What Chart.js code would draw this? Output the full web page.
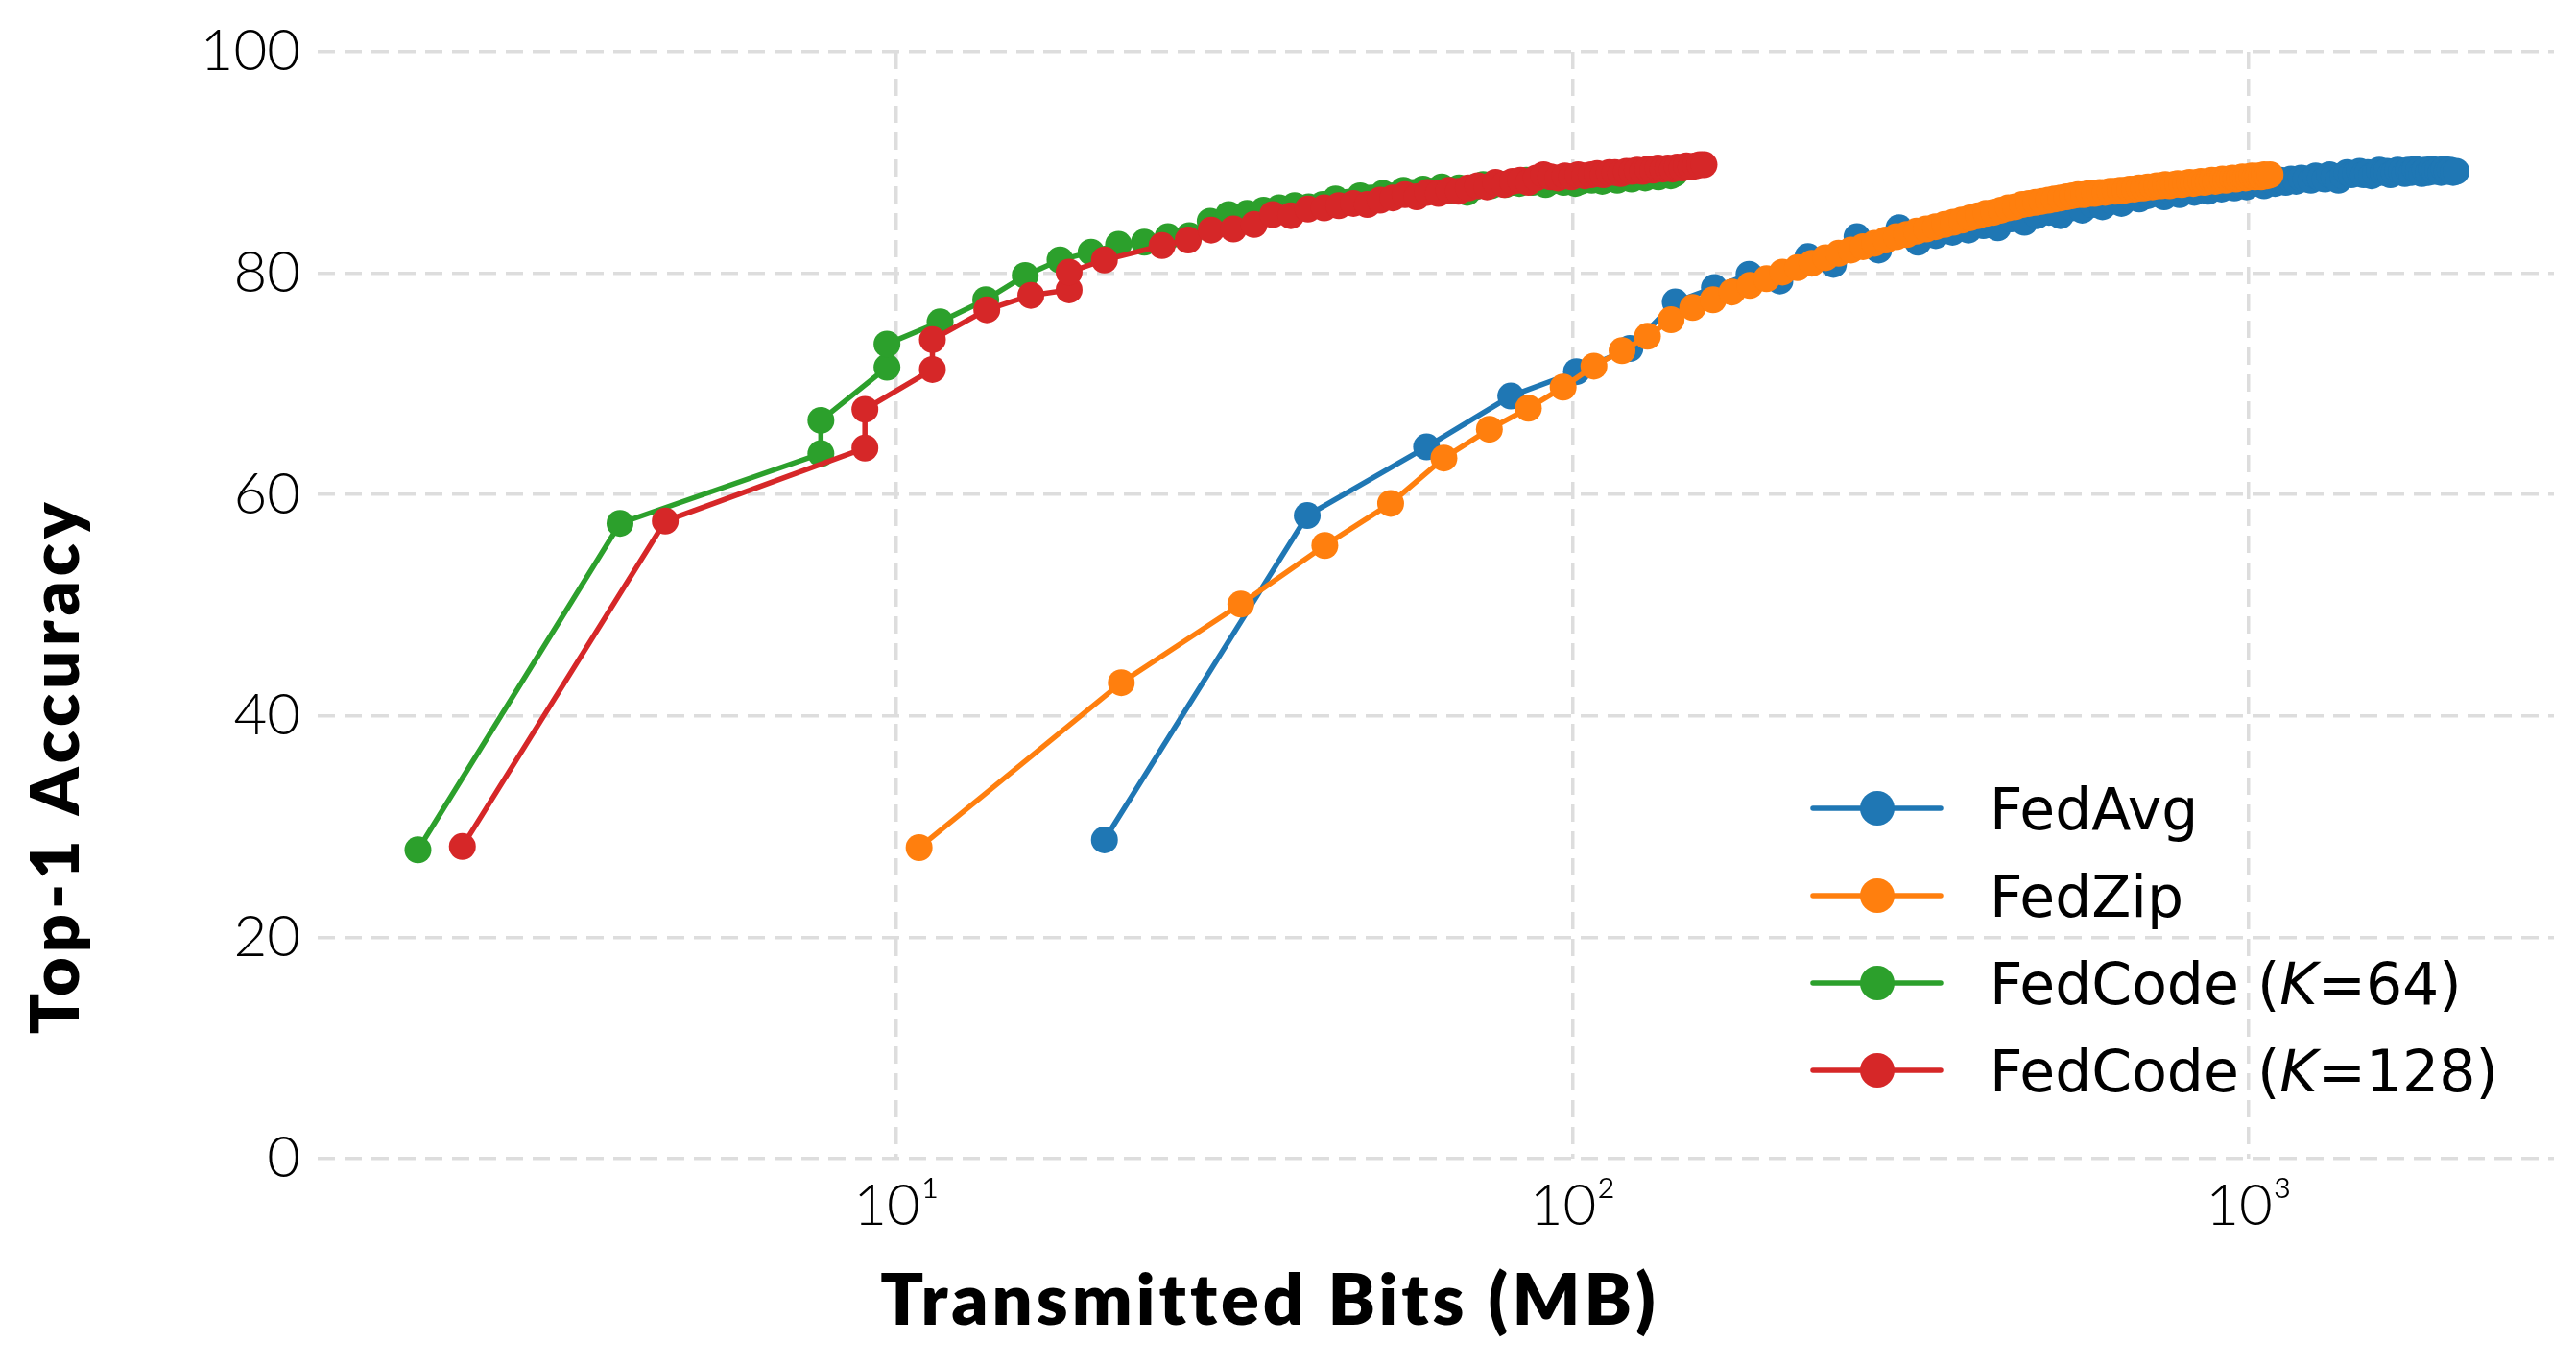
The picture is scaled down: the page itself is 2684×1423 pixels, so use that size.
<!DOCTYPE html>
<html>
<head>
<meta charset="utf-8">
<script src="https://cdn.jsdelivr.net/npm/chart.js@4.4.1/dist/chart.umd.min.js"></script>
<style>
  html, body { margin: 0; padding: 0; background: #fff; }
  canvas { display: block; }
</style>
</head>
<body>
<canvas id="myChart" width="2684" height="1423"></canvas>
<script>
// DATA
const xTickValues = [10, 100, 1000];
const xTickLabels = ['10\u00B9', '10\u00B2', '10\u00B3'];
const yTickStep = 20;

const seriesNames = ['FedAvg', 'FedZip', 'FedCode (K=64)', 'FedCode (K=128)'];
const seriesColors = ['#1f77b4', '#ff7f0e', '#2ca02c', '#d62728'];

const fedAvgX = [20.3, 40.5, 60.8, 81.0, 101.3, 121.5, 141.8, 162.0, 182.3, 202.5,
  222.8, 243.0, 263.3, 283.5, 303.8, 324.0, 344.3, 364.5, 384.8, 405.0,
  425.3, 445.5, 465.8, 486.0, 506.3, 526.5, 546.8, 567.0, 587.3, 607.5,
  627.8, 648.0, 668.3, 688.5, 708.8, 729.0, 749.3, 769.5, 789.8, 810.0,
  830.3, 850.5, 870.8, 891.0, 911.3, 931.5, 951.8, 972.0, 992.3, 1012.5,
  1032.8, 1053.0, 1073.3, 1093.5, 1113.8, 1134.0, 1154.3, 1174.5, 1194.8, 1215.0,
  1235.3, 1255.5, 1275.8, 1296.0, 1316.3, 1336.5, 1356.8, 1377.0, 1397.3, 1417.5,
  1437.8, 1458.0, 1478.3, 1498.5, 1518.8, 1539.0, 1559.3, 1579.5, 1599.8, 1620.0,
  1640.3, 1660.5, 1680.8, 1701.0, 1721.3, 1741.5, 1761.8, 1782.0, 1802.3, 1822.5,
  1842.8, 1863.0, 1883.3, 1903.5, 1923.8, 1944.0, 1964.3, 1984.5, 2004.8, 2025.0];
const fedAvgY = [28.8, 58.1, 64.3, 68.9, 71.1, 73.2, 77.4, 78.7, 79.9, 79.3,
  81.5, 80.8, 83.3, 82.1, 84.1, 82.8, 83.4, 83.7, 83.9, 84.3,
  84.1, 84.9, 84.6, 85.2, 85.5, 85.2, 85.9, 85.7, 86.2, 86.0,
  86.5, 86.3, 86.9, 86.7, 87.0, 87.2, 86.9, 87.3, 87.1, 87.5,
  87.3, 87.6, 87.4, 87.7, 87.6, 87.9, 87.7, 88.0, 87.8, 88.1,
  88.2, 87.9, 88.3, 88.1, 88.4, 88.2, 88.5, 88.3, 88.6, 88.5,
  88.4, 88.8, 88.6, 88.5, 88.9, 88.7, 88.4, 88.8, 89.1, 88.9,
  89.0, 89.2, 88.9, 89.1, 88.8, 89.0, 89.3, 89.1, 89.2, 88.9,
  89.1, 89.3, 89.2, 89.0, 89.3, 89.1, 89.4, 89.2, 89.0, 89.3,
  89.1, 89.4, 89.2, 89.3, 89.1, 89.4, 89.2, 89.3, 89.1, 89.2];

const fedZipX = [10.8, 21.5, 32.3, 43.0, 53.8, 64.5, 75.3, 86.0, 96.8, 107.5,
  118.3, 129.0, 139.8, 150.5, 161.3, 172.0, 182.8, 193.5, 204.3, 215.0,
  225.8, 236.5, 247.3, 258.0, 268.8, 279.5, 290.3, 301.0, 311.8, 322.5,
  333.3, 344.0, 354.8, 365.5, 376.3, 387.0, 397.8, 408.5, 419.3, 430.0,
  440.8, 451.5, 462.3, 473.0, 483.8, 494.5, 505.3, 516.0, 526.8, 537.5,
  548.3, 559.0, 569.8, 580.5, 591.3, 602.0, 612.8, 623.5, 634.3, 645.0,
  655.8, 666.5, 677.3, 688.0, 698.8, 709.5, 720.3, 731.0, 741.8, 752.5,
  763.3, 774.0, 784.8, 795.5, 806.3, 817.0, 827.8, 838.5, 849.3, 860.0,
  870.8, 881.5, 892.3, 903.0, 913.8, 924.5, 935.3, 946.0, 956.8, 967.5,
  978.3, 989.0, 999.8, 1010.5, 1021.3, 1032.0, 1042.8, 1053.5, 1064.3, 1075.0];
const fedZipY = [28.1, 43.0, 50.1, 55.4, 59.2, 63.3, 65.9, 67.8, 69.7, 71.6,
  73.0, 74.3, 75.8, 76.9, 77.6, 78.3, 78.9, 79.5, 80.1, 80.5,
  80.9, 81.4, 81.8, 82.1, 82.4, 82.7, 83.0, 83.3, 83.5, 83.8,
  84.0, 84.2, 84.4, 84.6, 84.8, 85.0, 85.2, 85.4, 85.5, 85.7,
  85.9, 86.0, 86.2, 86.3, 86.4, 86.5, 86.6, 86.7, 86.8, 86.9,
  87.0, 87.1, 87.1, 87.2, 87.2, 87.3, 87.3, 87.4, 87.4, 87.5,
  87.5, 87.6, 87.6, 87.7, 87.7, 87.8, 87.8, 87.9, 87.9, 88.0,
  87.9, 88.0, 88.1, 88.0, 88.1, 88.2, 88.1, 88.2, 88.3, 88.2,
  88.3, 88.4, 88.3, 88.4, 88.5, 88.4, 88.5, 88.6, 88.5, 88.6,
  88.7, 88.6, 88.7, 88.8, 88.7, 88.8, 88.7, 88.9, 88.8, 88.9];

const fedCode64X = [1.96, 3.90, 7.73, 7.73, 9.68, 9.68, 11.6, 13.55, 15.5, 17.45,
  19.4, 21.3, 23.25, 25.2, 27.1, 29.1, 31.0, 33.0, 34.9, 36.8,
  38.8, 40.7, 42.7, 44.6, 46.5, 48.5, 50.4, 52.4, 54.3, 56.2,
  58.2, 60.1, 62.1, 64.0, 66.0, 67.9, 69.8, 71.8, 73.7, 75.7,
  77.6, 79.5, 81.5, 83.4, 85.4, 87.3, 89.2, 91.2, 93.1, 95.1,
  97.0, 98.9, 100.9, 102.8, 104.8, 106.7, 108.6, 110.6, 112.5, 114.5,
  116.4, 118.3, 120.3, 122.2, 124.2, 126.1, 128.0, 130.0, 131.9, 133.9,
  135.8, 137.7, 139.7, 141.6];
const fedCode64Y = [27.9, 57.4, 63.7, 66.7, 71.5, 73.6, 75.6, 77.6, 79.8, 81.2,
  81.9, 82.6, 82.8, 83.3, 83.4, 84.7, 85.3, 85.4, 85.7, 85.9,
  86.1, 86.0, 86.2, 86.7, 86.4, 87.0, 86.8, 87.2, 87.0, 87.5,
  87.3, 87.6, 87.4, 87.8, 87.5, 87.7, 87.3, 87.8, 88.0, 87.9,
  88.1, 88.0, 88.2, 88.1, 88.4, 88.2, 88.3, 88.0, 88.3, 88.5,
  88.2, 88.4, 88.1, 88.3, 88.5, 88.4, 88.6, 88.3, 88.5, 88.7,
  88.4, 88.6, 88.8, 88.5, 88.7, 88.9, 88.6, 88.8, 89.0, 88.7,
  88.9, 89.1, 88.8, 89.0];

const fedCode128X = [2.28, 4.55, 8.98, 8.98, 11.3, 11.3, 13.6, 15.8, 18.0, 18.0,
  20.3, 24.7, 27.0, 29.2, 31.5, 33.8, 36.0, 38.3, 40.6, 42.9,
  45.1, 47.4, 49.7, 51.9, 54.2, 56.5, 58.8, 61.0, 63.3, 65.6,
  67.8, 70.1, 72.4, 74.7, 76.9, 79.2, 81.5, 83.7, 86.0, 88.3,
  90.6, 92.8, 95.1, 97.4, 99.6, 101.9, 104.2, 106.5, 108.7, 111.0,
  113.3, 115.5, 117.8, 120.1, 122.4, 124.6, 126.9, 129.2, 131.4, 133.7,
  136.0, 138.3, 140.5, 142.8, 145.1, 147.3, 149.6, 151.9, 154.2, 156.4];
const fedCode128Y = [28.2, 57.6, 64.2, 67.7, 71.3, 74.0, 76.7, 78.0, 78.5, 80.1,
  81.2, 82.5, 83.0, 83.9, 84.0, 84.4, 85.3, 85.2, 85.8, 85.9,
  86.1, 86.3, 86.2, 86.6, 86.8, 87.1, 86.9, 87.3, 87.2, 87.5,
  87.4, 87.7, 87.9, 87.8, 88.2, 88.0, 88.3, 88.4, 88.2, 88.6,
  88.9, 88.7, 88.6, 88.8, 88.7, 88.9, 88.8, 88.9, 89.0, 88.9,
  89.1, 89.1, 89.0, 89.2, 89.2, 89.3, 89.2, 89.4, 89.3, 89.5,
  89.4, 89.5, 89.4, 89.6, 89.5, 89.7, 89.6, 89.7, 89.8, 89.8];

const allX = [fedAvgX, fedZipX, fedCode64X, fedCode128X];
const allY = [fedAvgY, fedZipY, fedCode64Y, fedCode128Y];

// STYLE
const gridColor = '#dddddd';
const tickFont = { family: 'Lato', size: 60, weight: '300' };

function makeDataset(i) {
  return {
    label: seriesNames[i],
    data: allX[i].map((x, j) => ({ x: x, y: allY[i][j] })),
    borderColor: seriesColors[i],
    backgroundColor: seriesColors[i],
    pointBackgroundColor: seriesColors[i],
    borderWidth: 5.5,
    pointRadius: 14,
    pointHoverRadius: 14,
    pointBorderWidth: 0,
    tension: 0,
    fill: false,
    order: 4 - i, // later series drawn on top
  };
}

// axis titles + legend drawn inside the plot, like the original figure
const decorations = {
  id: 'decorations',
  afterDraw(chart) {
    const c = chart.ctx;
    c.save();
    c.fillStyle = '#000';
    c.letterSpacing = '4px';
    c.font = '800 74px Lato';
    c.textAlign = 'center';
    c.textBaseline = 'alphabetic';
    c.fillText('Transmitted Bits (MB)', 1323, 1380);

    c.translate(82, 798);
    c.rotate(-Math.PI / 2);
    c.letterSpacing = '5px';
    c.font = '800 70px Lato';
    c.fillText('Top-1 Accuracy', 0, 0);
    c.restore();

    // legend
    const rows = [842, 933, 1024, 1115];
    const parts = [
      [['FedAvg', false]],
      [['FedZip', false]],
      [['FedCode (', false], ['K', true], ['=64)', false]],
      [['FedCode (', false], ['K', true], ['=128)', false]],
    ];
    c.save();
    for (let i = 0; i < 4; i++) {
      const y = rows[i];
      c.strokeStyle = seriesColors[i];
      c.lineWidth = 5.5;
      c.lineCap = 'round';
      c.beginPath();
      c.moveTo(1889, y);
      c.lineTo(2022, y);
      c.stroke();
      c.fillStyle = seriesColors[i];
      c.beginPath();
      c.arc(1956, y, 18, 0, Math.PI * 2);
      c.fill();

      let tx = 2073;
      c.fillStyle = '#000';
      c.textAlign = 'left';
      c.textBaseline = 'alphabetic';
      parts[i].forEach(([t, ital]) => {
        c.font = (ital ? 'italic ' : '') + '400 60px "DejaVu Sans"';
        c.fillText(t, tx, y + 22);
        tx += c.measureText(t).width;
      });
    }
    c.restore();
  }
};

const config = {
  type: 'line',
  data: { datasets: [0, 1, 2, 3].map(makeDataset) },
  options: {
    responsive: false,
    animation: false,
    devicePixelRatio: 1,
    layout: { padding: { top: 54, right: 23, left: 0, bottom: 0 } },
    plugins: {
      legend: { display: false },
      tooltip: { enabled: false },
    },
    scales: {
      x: {
        type: 'logarithmic',
        min: 1.393,
        max: 2826,
        afterBuildTicks: (scale) => {
          scale.ticks = xTickValues.map((v) => ({ value: v }));
        },
        afterFit: (scale) => { scale.height = 216; },
        ticks: {
          callback: (value) => xTickLabels[xTickValues.indexOf(value)],
          font: tickFont,
          color: '#000',
          padding: 14,
          maxRotation: 0,
          autoSkip: false,
        },
        grid: { color: gridColor, lineWidth: 3.5, drawTicks: false },
        border: { display: false, dash: [18, 10] },
      },
      y: {
        min: 0,
        max: 100,
        afterFit: (scale) => { scale.width = 331; },
        ticks: {
          stepSize: yTickStep,
          font: tickFont,
          color: '#000',
          padding: 18,
        },
        grid: { color: gridColor, lineWidth: 3.5, drawTicks: false },
        border: { display: false, dash: [18, 10] },
      },
    },
  },
  plugins: [decorations],
};

const myChart = new Chart(document.getElementById('myChart'), config);
</script>
</body>
</html>
